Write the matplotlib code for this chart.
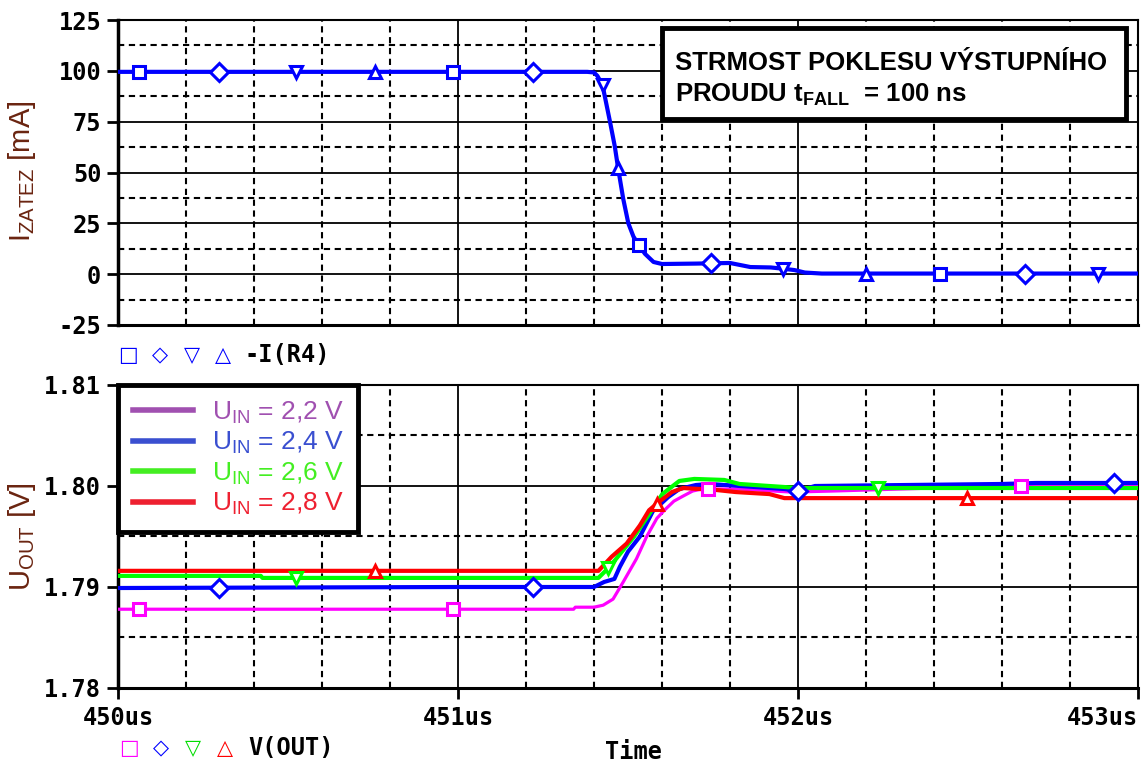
# PSpice-style plot: output current fall (t_fall = 100 ns) and V(OUT) response
import numpy as np
import matplotlib
matplotlib.use('Agg')
import matplotlib.pyplot as plt
from matplotlib.lines import Line2D
from matplotlib.patches import Rectangle

# ---- top plot: -I(R4) [mA] ----
t_i = [450.00, 451.38, 451.40, 451.41, 451.425, 451.447, 451.461, 451.471,
       451.486, 451.501, 451.516, 451.531, 451.550, 451.575, 451.600, 451.700,
       451.800, 451.830, 451.860, 451.920, 451.960, 451.990, 452.020, 452.070,
       453.00]
i_r4 = [99.5, 99.5, 99.2, 97.5, 93.0, 75.0, 63.0, 52.0,
        37.0, 25.0, 18.5, 14.5, 10.0, 6.0, 5.0, 5.2,
        5.5, 4.5, 3.5, 3.3, 2.6, 2.0, 0.8, 0.3,
        0.3]
i_mark_t = [450.062, 450.296, 450.523, 450.757, 450.985, 451.220, 451.425,
            451.471, 451.531, 451.745, 451.955, 452.200, 452.419, 452.667,
            452.883]

# ---- bottom plot: V(OUT) [V] for U_IN = 2.2 / 2.4 / 2.6 / 2.8 V ----
t_22 = [450.0, 451.34, 451.345, 451.40, 451.427, 451.456, 451.486, 451.525,
        451.555, 451.585, 451.607, 451.635, 451.662, 451.690, 451.717, 451.830,
        451.980, 452.100, 452.500, 453.0]
u_22 = [1.7878, 1.7878, 1.7880, 1.7880, 1.7882, 1.7888, 1.7905, 1.7928,
        1.7950, 1.7968, 1.7976, 1.7985, 1.7990, 1.7995, 1.7997, 1.7997,
        1.7994, 1.7995, 1.7999, 1.8001]

t_24 = [450.0, 451.0, 451.40, 451.43, 451.46, 451.476, 451.50, 451.535,
        451.573, 451.618, 451.651, 451.700, 451.740, 451.830, 451.960, 452.0,
        452.05, 452.60, 452.70, 453.0]
u_24 = [1.7899, 1.7900, 1.7900, 1.7905, 1.7908, 1.7920, 1.7935, 1.7950,
        1.7975, 1.7989, 1.7997, 1.8001, 1.8002, 1.8000, 1.7997, 1.7995,
        1.8000, 1.8002, 1.8003, 1.8003]

t_26 = [450.0, 450.42, 450.425, 451.413, 451.44, 451.463, 451.518, 451.562,
        451.601, 451.651, 451.695, 451.783, 451.828, 451.960, 452.0, 453.0]
u_26 = [1.7911, 1.7911, 1.7909, 1.7909, 1.7918, 1.7927, 1.7950, 1.7972,
        1.7992, 1.8005, 1.8007, 1.8006, 1.8002, 1.7999, 1.7998, 1.7998]

t_28 = [450.0, 451.413, 451.452, 451.496, 451.535, 451.562, 451.590, 451.629,
        451.662, 451.761, 451.817, 451.916, 451.960, 453.0]
u_28 = [1.7916, 1.7916, 1.7930, 1.7943, 1.7961, 1.7976, 1.7984, 1.7994,
        1.7998, 1.7996, 1.7994, 1.7992, 1.7988, 1.7988]

m22_t = [450.062, 450.985, 451.735, 452.656]
m24_t = [450.296, 451.220, 452.000, 452.930]
m26_t = [450.523, 451.441, 452.234]
m28_t = [450.757, 451.585, 452.496]

legend_labels = [r'U$_{\mathregular{IN}}$ = 2,2 V', r'U$_{\mathregular{IN}}$ = 2,4 V',
                 r'U$_{\mathregular{IN}}$ = 2,6 V', r'U$_{\mathregular{IN}}$ = 2,8 V']
x_ticks = [450, 451, 452, 453]
x_ticklabels = ['450us', '451us', '452us', '453us']
i_ticks = [-25, 0, 25, 50, 75, 100, 125]
u_ticks = [1.78, 1.79, 1.80, 1.81]
u_ticklabels = ['1.78', '1.79', '1.80', '1.81']

W, H = 1145, 765
MONO = {'family': 'DejaVu Sans Mono', 'weight': 'bold', 'size': 17}
LABEL_COL = '#6a2410'
DASH = (0, (3, 2.2))


def style_axes(ax):
    ax.set_xlim(450, 453)
    ax.xaxis.set_major_locator(plt.FixedLocator(x_ticks))
    ax.xaxis.set_minor_locator(plt.MultipleLocator(0.2))
    ax.grid(which='major', color='black', linestyle='-', linewidth=1.3)
    ax.grid(which='minor', color='black', linestyle=DASH, linewidth=1.5)
    ax.set_axisbelow(True)
    ax.tick_params(which='minor', length=0)
    ax.tick_params(axis='y', which='major', direction='out', length=8,
                   width=2, pad=4)
    ax.spines['left'].set_linewidth(2.5)
    ax.spines['bottom'].set_linewidth(2.2)
    ax.spines['top'].set_linewidth(1.5)
    ax.spines['right'].set_linewidth(1.5)
    for lab in ax.get_yticklabels():
        lab.set_fontproperties(MONO)


def main():
    fig = plt.figure(figsize=(W / 100, H / 100), dpi=100)
    ax1 = fig.add_axes([118 / W, 1 - 325 / H, 1020 / W, 305 / H])
    ax2 = fig.add_axes([118 / W, 1 - 688 / H, 1020 / W, 303 / H])
    shapes = ['s', 'D', 'v', '^']

    # top: current
    ax1.plot(t_i, i_r4, color='#0000ff', linewidth=3, zorder=3)
    i_mark = np.interp(i_mark_t, t_i, i_r4)
    for k, (tm, im) in enumerate(zip(i_mark_t, i_mark)):
        ax1.plot(tm, im, marker=shapes[k % 4], ms=9, mew=2.2,
                 mec='#0000ff', mfc='white', zorder=4)
    ax1.set_ylim(-25, 125)
    ax1.yaxis.set_major_locator(plt.FixedLocator(i_ticks))
    ax1.yaxis.set_minor_locator(plt.MultipleLocator(12.5))
    ax1.set_yticklabels([str(v) for v in i_ticks])
    style_axes(ax1)
    ax1.tick_params(axis='x', which='major', length=0, labelbottom=False)

    # bottom: output voltage
    traces = [(t_22, u_22, m22_t, '#ff00ff', 2.3, 's'),
              (t_24, u_24, m24_t, '#0000ff', 3.0, 'D'),
              (t_26, u_26, m26_t, '#00ff00', 3.0, 'v'),
              (t_28, u_28, m28_t, '#ff0000', 3.0, '^')]
    for t, u, mt, col, lw, mk in traces:
        ax2.plot(t, u, color=col, linewidth=lw, zorder=3)
        ax2.plot(mt, np.interp(mt, t, u), linestyle='none', marker=mk,
                 ms=9, mew=2.2, mec=col, mfc='white', zorder=4)
    ax2.set_ylim(1.78, 1.81)
    ax2.yaxis.set_major_locator(plt.FixedLocator(u_ticks))
    ax2.yaxis.set_minor_locator(plt.MultipleLocator(0.005))
    ax2.set_yticklabels(u_ticklabels)
    style_axes(ax2)
    ax2.set_xticklabels(x_ticklabels)
    ax2.tick_params(axis='x', which='major', direction='out', length=8,
                    width=2, pad=5)
    for lab in ax2.get_xticklabels():
        lab.set_fontproperties(MONO)
    ax2.get_xticklabels()[-1].set_horizontalalignment('right')

    leg_cols = ['#a050b0', '#3a4fd0', '#44ee22', '#ee2030']
    handles = [Line2D([], [], color=c, linewidth=4) for c in leg_cols]
    leg = ax2.legend(handles, legend_labels, loc='upper left',
                     bbox_to_anchor=(0, 1), borderaxespad=0, fancybox=False,
                     framealpha=1, edgecolor='black', labelcolor=leg_cols,
                     prop={'family': 'Liberation Sans', 'size': 19},
                     handlelength=2.3, handletextpad=0.7, labelspacing=0.15,
                     borderpad=0.55)
    leg.get_frame().set_linewidth(3.5)
    leg.set_zorder(10)

    # axis labels
    fig.text(22 / W, 1 - 171 / H, r'I$_{\mathregular{ZATEZ}}$ [mA]',
             rotation=90, ha='center', va='center', color=LABEL_COL,
             family='Liberation Sans', size=21)
    fig.text(22 / W, 1 - 537 / H, r'U$_{\mathregular{OUT}}$ [V]',
             rotation=90, ha='center', va='center', color=LABEL_COL,
             family='Liberation Sans', size=21)

    # annotation box
    fig.add_artist(Rectangle((662 / W, 1 - 119 / H), 464 / W, 91 / H,
                             transform=fig.transFigure, facecolor='white',
                             edgecolor='black', linewidth=3.5, zorder=5))
    fig.text(675 / W, 1 - 70 / H, 'STRMOST POKLESU VÝSTUPNÍHO',
             ha='left', va='baseline', family='Liberation Sans',
             weight='bold', size=18.5, zorder=6)
    fig.text(675 / W, 1 - 102 / H, r'PROUDU t$_{\mathregular{FALL}}$  = 100 ns',
             ha='left', va='baseline', family='Liberation Sans',
             weight='bold', size=18.5, zorder=6)

    # trace legends below each plot (PSpice style)
    sym = ['□', '◇', '▽', '△']
    for k, x in enumerate([128, 160, 192, 223]):
        fig.text(x / W, 1 - 355 / H, sym[k], ha='center', va='center',
                 color='#0000ff', family='DejaVu Sans', size=15)
    fig.text(245 / W, 1 - 355 / H, '-I(R4)', ha='left', va='center',
             fontproperties=MONO)
    for k, (x, c) in enumerate(zip([129, 161, 193, 225],
                                   ['#ff00ff', '#0000ff', '#00dd00', '#ff0000'])):
        fig.text(x / W, 1 - 748 / H, sym[k], ha='center', va='center',
                 color=c, family='DejaVu Sans', size=15)
    fig.text(248 / W, 1 - 748 / H, 'V(OUT)', ha='left', va='center',
             fontproperties=MONO)
    fig.text(633 / W, 1 - 752 / H, 'Time', ha='center', va='center',
             fontproperties=MONO)

    fig.savefig('out.png', dpi=100)
    plt.close(fig)


if __name__ == "__main__":
    main()
